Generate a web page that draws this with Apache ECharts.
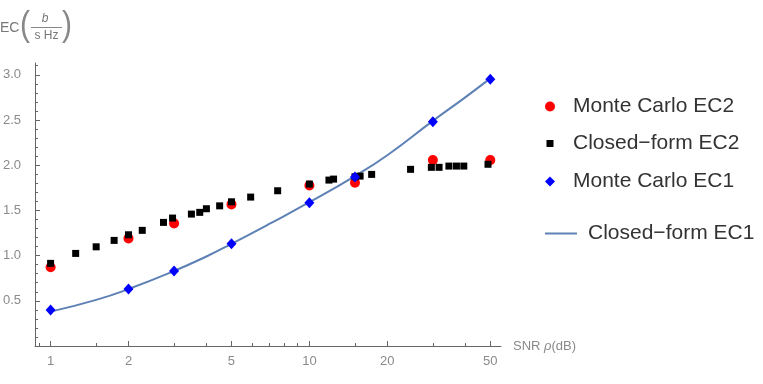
<!DOCTYPE html>
<html><head><meta charset="utf-8">
<script src="https://cdn.jsdelivr.net/npm/echarts@6/dist/echarts.min.js"></script>
<style>html,body{margin:0;padding:0;background:#fff}#c{width:763px;height:384px}</style>
</head><body><div id="c"></div>
<script>
// Monte Carlo points
const snrMC = [1, 2, 3, 5, 10, 15, 30, 50];
const mcEC2 = [0.87, 1.19, 1.356, 1.566, 1.776, 1.805, 2.056, 2.056];
const mcEC1 = [0.397, 0.63, 0.83, 1.13, 1.584, 1.87, 2.48, 2.95];
// Closed-form EC2 points
const snrCF2 = [1.0, 1.25, 1.5, 1.76, 2.0, 2.26, 2.73, 2.96, 3.5, 3.77, 4.0, 4.5, 5.0, 5.93, 7.54, 10, 11.9, 12.4, 15.0, 15.7, 17.4, 24.6, 29.6, 31.7, 34.6, 37.0, 39.5, 49.0];
const cfEC2 = [0.914, 1.024, 1.097, 1.168, 1.23, 1.279, 1.367, 1.415, 1.459, 1.478, 1.518, 1.55, 1.595, 1.647, 1.717, 1.791, 1.835, 1.846, 1.872, 1.879, 1.898, 1.954, 1.976, 1.976, 1.99, 1.99, 1.99, 2.01];
// Closed-form EC1 curve
const snrCF1 = [1, 1.5, 2, 3, 4, 5, 7, 10, 15, 20, 30, 40, 50];
const cfEC1 = [0.38, 0.51, 0.63, 0.83, 0.99, 1.13, 1.35, 1.59, 1.88, 2.11, 2.49, 2.75, 2.96];
// ticks
const xMajorTicks = [1, 2, 5, 10, 20, 50];
const xMinorTicks = [0.9, 1.5, 3, 4, 6, 7, 8, 9, 15, 30, 40];
const yTicks = [0.5, 1.0, 1.5, 2.0, 2.5, 3.0];
const names = ['Monte Carlo EC2', 'Closed\u2212form EC2', 'Monte Carlo EC1', 'Closed\u2212form EC1'];

const FONT = 'Liberation Sans, Arial, sans-serif';
const AX = '#666', LBL = '#8a8a8a';
const pair = (xs, ys) => xs.map((x, i) => [x, ys[i]]);
const legText = pad => ({fontFamily: FONT, fontSize: 21, color: '#333', padding: [0, 0, 0, pad]});

const chart = echarts.init(document.getElementById('c'), null, {renderer: 'canvas'});
const legendBase = {orient: 'vertical', padding: 0, selectedMode: false};
chart.setOption({
  animation: false,
  backgroundColor: '#fff',
  textStyle: {fontFamily: FONT},
  grid: {left: 35, right: 262, top: 63, bottom: 38, containLabel: false},
  xAxis: [{
    type: 'log', logBase: 10, min: 0.871, max: 55, position: 'bottom',
    axisLine: {lineStyle: {color: AX, width: 1}},
    axisTick: {inside: true, length: 5, customValues: xMajorTicks, lineStyle: {color: AX}},
    axisLabel: {customValues: xMajorTicks, formatter: v => String(Math.round(v * 100) / 100),
      color: LBL, fontSize: 13, margin: 9, fontFamily: FONT},
    splitLine: {show: false},
    name: 'SNR {i|\u03c1}(dB)', nameLocation: 'end', nameGap: 12,
    nameTextStyle: {color: LBL, fontSize: 13, fontFamily: FONT,
      rich: {i: {fontStyle: 'italic', color: LBL, fontSize: 13, fontFamily: FONT}}}
  }, {
    type: 'log', logBase: 10, min: 0.871, max: 55, position: 'bottom',
    axisLine: {show: false},
    axisTick: {inside: true, length: 3, customValues: xMinorTicks, lineStyle: {color: AX}},
    axisLabel: {show: false}, splitLine: {show: false}
  }],
  yAxis: {
    type: 'value', min: 0, max: 3.13, interval: 0.5,
    axisLine: {show: true, lineStyle: {color: AX, width: 1}},
    axisTick: {show: true, inside: true, length: 5, customValues: yTicks, lineStyle: {color: AX}},
    minorTick: {show: true, splitNumber: 5, length: 3, lineStyle: {color: AX}},
    axisLabel: {customValues: yTicks, formatter: v => v.toFixed(1), color: LBL, fontSize: 13, margin: 14, fontFamily: FONT},
    splitLine: {show: false}
  },
  legend: [
    Object.assign({}, legendBase, {data: [names[0]], left: 545, top: 96, itemWidth: 10, itemHeight: 10, textStyle: legText(13)}),
    Object.assign({}, legendBase, {data: [names[1]], left: 546.5, top: 133, itemWidth: 7, itemHeight: 7, textStyle: legText(14.5)}),
    Object.assign({}, legendBase, {data: [names[2]], left: 545, top: 171, itemWidth: 10, itemHeight: 10, textStyle: legText(13)}),
    Object.assign({}, legendBase, {data: [names[3]], left: 545, top: 223, itemWidth: 32, itemHeight: 2,
      icon: 'rect', symbolKeepAspect: false, textStyle: legText(6)})
  ],
  graphic: [
    {type: 'text', left: 0, top: 21, style: {text: 'EC', fontFamily: FONT, fontSize: 14, fill: '#777'}},
    {type: 'text', x: 20, y: 9, scaleY: 1.15, style: {text: '(', fontFamily: FONT, fontSize: 30, fill: '#888'}},
    {type: 'text', x: 45, y: 19, style: {text: 'b', fontFamily: FONT, fontSize: 12, fontStyle: 'italic', fill: '#777', align: 'center', verticalAlign: 'middle'}},
    {type: 'line', shape: {x1: 31, y1: 27.5, x2: 62, y2: 27.5}, style: {stroke: '#888', lineWidth: 1}},
    {type: 'text', x: 46.5, y: 35.5, style: {text: 's Hz', fontFamily: FONT, fontSize: 12, fill: '#777', align: 'center', verticalAlign: 'middle'}},
    {type: 'text', x: 62, y: 9, scaleY: 1.15, style: {text: ')', fontFamily: FONT, fontSize: 30, fill: '#888'}}
  ],
  series: [
    {name: names[0], type: 'scatter', data: pair(snrMC, mcEC2), symbol: 'circle', symbolSize: 10,
      itemStyle: {color: '#ff0000', opacity: 1}, z: 3},
    {name: names[1], type: 'scatter', data: pair(snrCF2, cfEC2), symbol: 'rect', symbolSize: 7,
      itemStyle: {color: '#000000', opacity: 1}, z: 4},
    {name: names[2], type: 'scatter', data: pair(snrMC, mcEC1), symbol: 'diamond', symbolSize: [10, 11],
      itemStyle: {color: '#0000ff', opacity: 1}, z: 5},
    {name: names[3], type: 'line', data: pair(snrCF1, cfEC1), smooth: true, symbol: 'none',
      lineStyle: {color: '#5e81b5', width: 2}, itemStyle: {color: '#5e81b5'}, z: 2}
  ]
});
</script></body></html>
